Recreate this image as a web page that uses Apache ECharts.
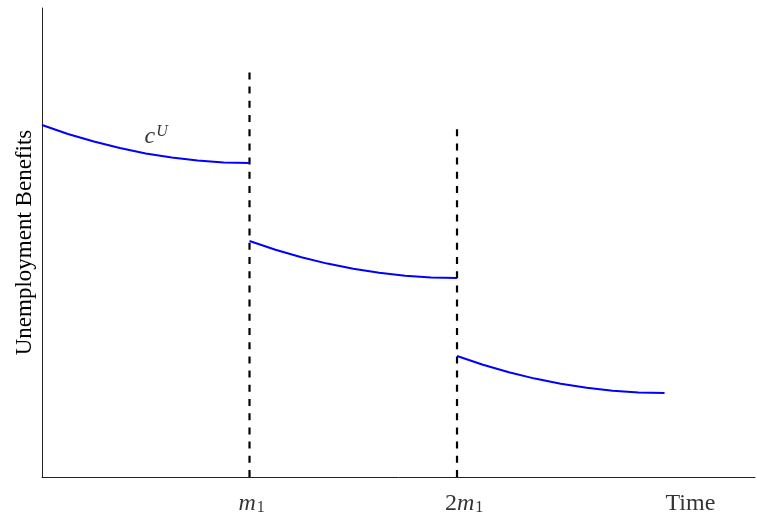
<!DOCTYPE html>
<html><head><meta charset="utf-8">
<script src="https://cdn.jsdelivr.net/npm/echarts@6/dist/echarts.min.js"></script>
<style>html,body{margin:0;padding:0;background:#fff}#c{width:757px;height:517px}</style>
</head><body><div id="c"></div>
<script>
// time positions (units of m1)
const seg1X = [0, 0.125, 0.25, 0.375, 0.5, 0.625, 0.75, 0.875, 1];
const seg1Y = [3.52, 3.43, 3.355, 3.29, 3.235, 3.195, 3.165, 3.145, 3.14];
const seg2X = [1, 1.125, 1.25, 1.375, 1.5, 1.625, 1.75, 1.875, 2];
const seg2Y = [2.36, 2.273, 2.198, 2.134, 2.083, 2.042, 2.013, 1.996, 1.99];
const seg3X = [2, 2.125, 2.25, 2.375, 2.5, 2.625, 2.75, 2.875, 3];
const seg3Y = [1.21, 1.123, 1.048, 0.984, 0.933, 0.892, 0.863, 0.846, 0.84];
const breakX = [1, 2];
const breakTop = [4.09, 3.52];
const tickLabels = ['{i|m}{s|1}', '{n|2}{i|m}{s|1}', '{n|Time}'];
const tickLabelX = [1, 2, 3];
const curveLabel = '{i|c}{sup|U}';
const curveLabelPos = [0.55, 3.4];

const serif = '"Liberation Serif", "DejaVu Serif", serif';
const rich = {
  i: {fontFamily: serif, fontStyle: 'italic', fontSize: 24, color: '#000'},
  n: {fontFamily: serif, fontSize: 24, color: '#000'},
  s: {fontFamily: serif, fontSize: 16, color: '#000', verticalAlign: 'bottom', padding: [8, 0, 0, 1]},
  sup: {fontFamily: serif, fontStyle: 'italic', fontSize: 16, color: '#000', verticalAlign: 'top', padding: [0, 0, 10, 1]}
};

const zip = (xs, ys) => xs.map((x, k) => [x, ys[k]]);
const blue = {color: '#0000ff', width: 2};
const series = [];
breakX.forEach((x, k) => {
  series.push({type: 'line', data: [[x, 0], [x, breakTop[k]]], symbol: 'none', silent: true,
    lineStyle: {color: '#000', width: 2.2, type: [7, 7.2]}, z: 2});
});
[[seg1X, seg1Y], [seg2X, seg2Y], [seg3X, seg3Y]].forEach(([xs, ys]) => {
  series.push({type: 'line', data: zip(xs, ys), symbol: 'none', smooth: false,
    lineStyle: blue, silent: true, z: 3});
});
const offs = [[-11, 0], [-12, 0], [1, 0]];
series.push({type: 'scatter', symbolSize: 0, silent: true,
  data: tickLabelX.map((x, k) => ({value: [x, 0], label: {show: true, formatter: tickLabels[k],
    position: 'bottom', align: 'left', offset: [offs[k][0], 10], rich: rich}}))});
series.push({type: 'scatter', symbolSize: 0, silent: true,
  data: [{value: curveLabelPos, label: {show: true, formatter: curveLabel, position: 'inside', rich: rich}}]});

const chart = echarts.init(document.getElementById('c'));
chart.setOption({
  animation: false,
  backgroundColor: '#fff',
  grid: {left: 42, right: 2, top: 8, bottom: 40},
  xAxis: {type: 'value', min: 0, max: 3.436,
    axisLine: {show: true, lineStyle: {color: '#222', width: 1}},
    axisTick: {show: false}, axisLabel: {show: false}, splitLine: {show: false}},
  yAxis: {type: 'value', min: 0, max: 4.69,
    name: 'Unemployment Benefits', nameLocation: 'middle', nameGap: 6,
    nameTextStyle: {fontFamily: serif, fontSize: 23, color: '#000'},
    axisLine: {show: true, lineStyle: {color: '#222', width: 1}},
    axisTick: {show: false}, axisLabel: {show: false}, splitLine: {show: false}},
  series: series
});
</script></body></html>
